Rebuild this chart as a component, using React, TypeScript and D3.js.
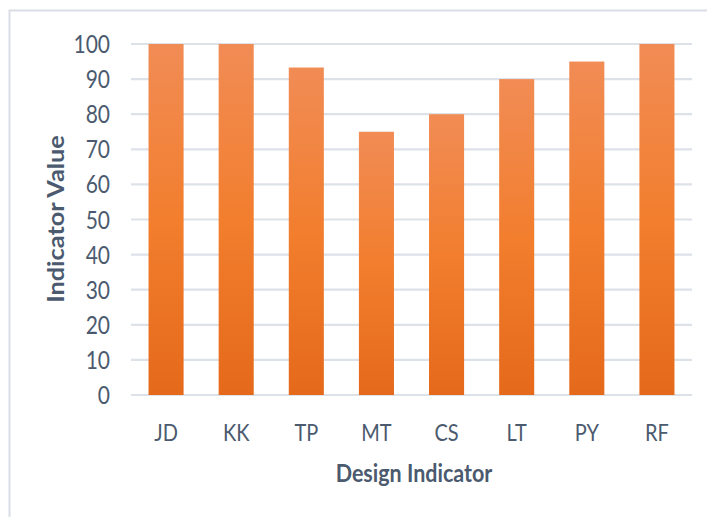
import React from "react";
import * as d3 from "d3";

const categories = ["JD", "KK", "TP", "MT", "CS", "LT", "PY", "RF"];
const values = [100, 100, 93.3, 75, 80, 90, 95, 100];
const yTicks = [0, 10, 20, 30, 40, 50, 60, 70, 80, 90, 100];

const W = 707;
const H = 517;
const left = 131;
const right = 692;
const top = 44;
const bottom = 395;
const textColor = "#4B5A6E";
const font = "Lato, 'Open Sans', sans-serif";

export default function App() {
  const x = d3.scaleBand<string>().domain(categories).range([left, right]).paddingInner(0.5).paddingOuter(0.25);
  const y = d3.scaleLinear().domain([0, 100]).range([bottom, top]);
  return (
    <svg width={W} height={H} style={{ position: "absolute", left: 0, top: 0, background: "#fff" }}>
      <defs>
        <linearGradient id="barGrad" x1="0" y1="0" x2="0" y2="1">
          <stop offset="0%" stopColor="#F18C55" />
          <stop offset="50%" stopColor="#F27E2E" />
          <stop offset="100%" stopColor="#E5691B" />
        </linearGradient>
      </defs>
      <rect x={9.5} y={10.5} width={W + 10} height={H + 10} fill="#fff" stroke="#D9DEE6" strokeWidth={2} />
      {yTicks.map((t) => (
        <g key={t}>
          <line x1={left} x2={right} y1={y(t)} y2={y(t)} stroke="#DDE1E8" strokeWidth={2.2} />
          <text
            x={110}
            y={y(t)}
            textAnchor="end"
            dominantBaseline="central"
            fontFamily={font}
            fontSize={21}
            fill={textColor}
            transform={`translate(0 ${y(t)}) scale(1 1.15) translate(0 ${-y(t)})`}
          >
            {t}
          </text>
        </g>
      ))}
      {categories.map((c, i) => (
        <g key={c}>
          <rect
            x={x(c)!}
            y={y(values[i])}
            width={x.bandwidth()}
            height={bottom - y(values[i])}
            fill="url(#barGrad)"
          />
          <text
            x={x(c)! + x.bandwidth() / 2}
            y={432}
            textAnchor="middle"
            dominantBaseline="central"
            fontFamily={font}
            fontSize={20}
            fill={textColor}
            transform={`translate(0 432) scale(1 1.15) translate(0 -432)`}
          >
            {c}
          </text>
        </g>
      ))}
      <text
        x={0}
        y={0}
        textAnchor="middle"
        dominantBaseline="central"
        fontFamily={font}
        fontWeight="bold"
        fontSize={21.5}
        fill={textColor}
        transform={`translate(414 472) scale(1 1.15)`}
      >
        Design Indicator
      </text>
      <text
        transform={`translate(56 219) scale(1 1.15) rotate(-90)`}
        textAnchor="middle"
        dominantBaseline="central"
        fontFamily={font}
        fontWeight="bold"
        fontSize={22}
        fill={textColor}
      >
        Indicator Value
      </text>
    </svg>
  );
}
